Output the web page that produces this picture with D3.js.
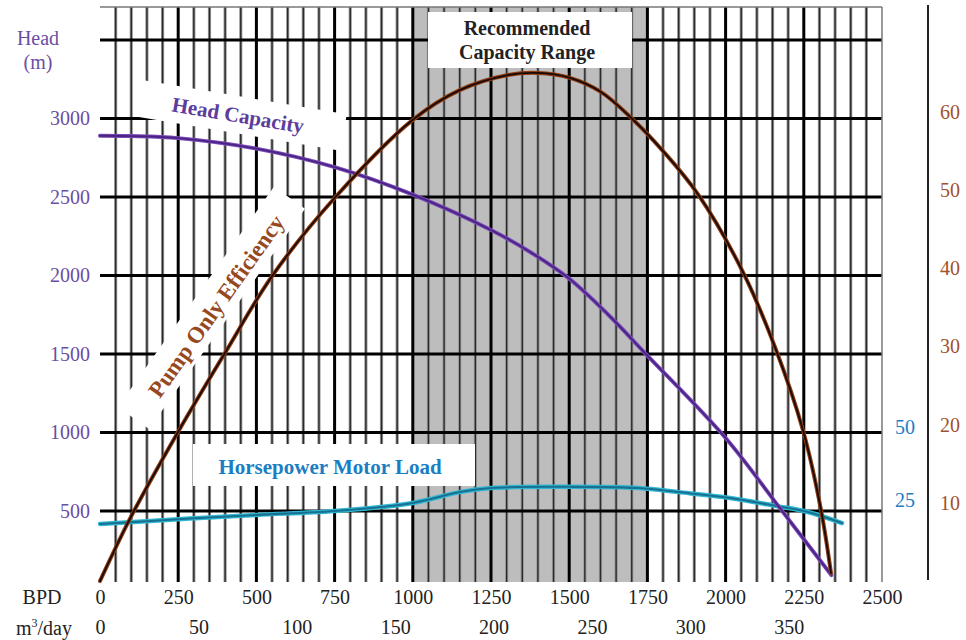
<!DOCTYPE html>
<html>
<head>
<meta charset="utf-8">
<script src="https://cdn.jsdelivr.net/npm/d3@7"></script>
<style>
  body { margin: 0; background: #fff; }
  text { font-family: "Liberation Serif", "Times New Roman", serif; }
</style>
</head>
<body>
<script>
// chart size
const width = 966;
const height = 640;

// data
const bpdTicks = [0, 250, 500, 750, 1000, 1250, 1500, 1750, 2000, 2250, 2500];
const m3Ticks = [0, 50, 100, 150, 200, 250, 300, 350];
const headTicks = [500, 1000, 1500, 2000, 2500, 3000];
const effTicks = [10, 20, 30, 40, 50, 60];
const hpTicks = [25, 50];
const recommended = [1000, 1750];

const headBpd = [0, 100, 250, 500, 750, 1000, 1250, 1375, 1500, 1625, 1750, 2000, 2178, 2338];
const headVal = [2890, 2888, 2875, 2808, 2690, 2515, 2290, 2150, 1980, 1750, 1490, 965, 507, 92];

const effBpd = [0, 100, 250, 400, 550, 750, 1000, 1150, 1300, 1400, 1500, 1600, 1697, 1800, 1913, 2057, 2159, 2248, 2305, 2337];
const effVal = [0, 8.3, 19.1, 29.2, 39.0, 49.0, 59.0, 62.8, 64.7, 65.0, 64.4, 62.6, 59.3, 55.0, 49.4, 39.4, 29.8, 19.2, 9.1, 1.0];

const hpBpd = [0, 250, 500, 750, 1000, 1150, 1250, 1500, 1722, 1850, 2014, 2164, 2263, 2372];
const hpVal = [16.8, 18.4, 19.9, 21.2, 24.0, 27.7, 29.1, 29.5, 29.1, 27.7, 25.7, 22.9, 20.9, 17.1];

const bblPerM3 = 6.29;

let svg = d3.select('body')
    .append('svg')
    .attr('width', width)
    .attr('height', height);

svg.append('rect').attr('width', width).attr('height', height).attr('fill', '#fff');

// scales
let x = d3.scaleLinear().domain([0, 2500]).range([100, 882]);
let xM3 = d3.scaleLinear().domain([0, 2500 / bblPerM3]).range([100, 882]);
let yHead = d3.scaleLinear().domain([0, 3500]).range([589.5, 40]);
let yEff = d3.scaleLinear().domain([0, 60]).range([581, 112]);
let yHp = d3.scaleLinear().domain([0, 50]).range([573, 427]);

const gridTop = 7, gridBottom = 582;

// recommended capacity band
svg.append('rect')
    .attr('x', x(recommended[0]))
    .attr('y', gridTop)
    .attr('width', x(recommended[1]) - x(recommended[0]))
    .attr('height', gridBottom - gridTop)
    .attr('fill', '#bdbdbd');

// grid
let grid = svg.append('g').classed('grid', true);
let minor = d3.range(50, 2500, 50).filter(v => v % 250 !== 0);
let major = d3.range(250, 2500, 250);

grid.selectAll('.vminor').data(minor).enter().append('line')
    .attr('x1', d => x(d)).attr('x2', d => x(d))
    .attr('y1', gridTop).attr('y2', gridBottom)
    .attr('stroke', '#999').attr('stroke-width', 3.2);
grid.selectAll('.vminor2').data(minor).enter().append('line')
    .attr('x1', d => x(d)).attr('x2', d => x(d))
    .attr('y1', gridTop).attr('y2', gridBottom)
    .attr('stroke', '#2a2a2a').attr('stroke-width', 1.4);
grid.selectAll('.vmajor').data(major).enter().append('line')
    .attr('x1', d => x(d)).attr('x2', d => x(d))
    .attr('y1', gridTop).attr('y2', gridBottom)
    .attr('stroke', '#000').attr('stroke-width', 3);
grid.selectAll('.h').data(d3.range(500, 3501, 500)).enter().append('line')
    .attr('x1', x(0)).attr('x2', x(2500))
    .attr('y1', d => yHead(d)).attr('y2', d => yHead(d))
    .attr('stroke', '#000').attr('stroke-width', 3);
// border top / right
grid.append('line').attr('x1', x(0)).attr('x2', x(2500)).attr('y1', gridTop).attr('y2', gridTop)
    .attr('stroke', '#777').attr('stroke-width', 1.5);
grid.append('line').attr('x1', x(2500)).attr('x2', x(2500)).attr('y1', gridTop).attr('y2', gridBottom)
    .attr('stroke', '#777').attr('stroke-width', 1.5);

// white label boxes
let boxes = svg.append('g').attr('fill', '#fff');
boxes.append('rect').attr('x', 428).attr('y', 12).attr('width', 204).attr('height', 56);
boxes.append('rect').attr('x', 193).attr('y', 444).attr('width', 282).attr('height', 42);
boxes.append('rect').attr('x', -103).attr('y', -19).attr('width', 206).attr('height', 37)
    .attr('transform', 'translate(242,116) rotate(9.5)');
boxes.append('rect').attr('x', -138).attr('y', -20).attr('width', 270).attr('height', 38)
    .attr('transform', 'translate(214,306) rotate(-54.7)');

// curves
function drawCurve(xs, ys, yScale, outer, inner, w) {
    let pts = xs.map((v, i) => [x(v), yScale(ys[i])]);
    let line = d3.line().curve(d3.curveCatmullRom.alpha(0.5));
    svg.append('path').attr('d', line(pts)).attr('fill', 'none')
        .attr('stroke', outer).attr('stroke-width', w).attr('stroke-linecap', 'round');
    svg.append('path').attr('d', line(pts)).attr('fill', 'none')
        .attr('stroke', inner).attr('stroke-width', w * 0.45).attr('stroke-linecap', 'round');
}
drawCurve(hpBpd, hpVal, yHp, '#2fb6d2', '#17708f', 4.5);
drawCurve(headBpd, headVal, yHead, '#7c4cb8', '#4a2284', 4);
drawCurve(effBpd, effVal, yEff, '#8e3c14', '#1a0904', 4);

// axes
function styleAxis(g, color) {
    g.select('.domain').remove();
    g.selectAll('text')
        .attr('fill', color)
        .style('font-family', '"Liberation Serif", serif')
        .style('font-size', '20px');
}
const fmt = d3.format('d');

svg.append('g').attr('transform', 'translate(100,0)')
    .call(d3.axisLeft(yHead).tickValues(headTicks).tickFormat(fmt).tickSize(0).tickPadding(10))
    .call(g => styleAxis(g, '#6a4ea3'));

svg.append('g').attr('transform', `translate(0,${gridBottom})`)
    .call(d3.axisBottom(x).tickValues(bpdTicks).tickFormat(fmt).tickSize(0).tickPadding(8))
    .call(g => styleAxis(g, '#222'));

svg.append('g').attr('transform', `translate(0,${gridBottom + 34})`)
    .call(d3.axisBottom(xM3).tickValues(m3Ticks).tickFormat(fmt).tickSize(0).tickPadding(4))
    .call(g => styleAxis(g, '#222'));

svg.append('g').attr('transform', 'translate(928,0)')
    .call(d3.axisRight(yEff).tickValues(effTicks).tickFormat(fmt).tickSize(0).tickPadding(12))
    .call(g => styleAxis(g, '#a0522d'));

svg.append('g').attr('transform', 'translate(882,0)')
    .call(d3.axisRight(yHp).tickValues(hpTicks).tickFormat(fmt).tickSize(0).tickPadding(13))
    .call(g => styleAxis(g, '#1a7ec4'));

// right axis line
svg.append('line').attr('x1', 928).attr('x2', 928).attr('y1', 5).attr('y2', 580)
    .attr('stroke', '#222').attr('stroke-width', 2);

// axis titles
let titles = svg.append('g').style('font-size', '20px');
titles.append('text').attr('x', 38).attr('y', 45).attr('text-anchor', 'middle')
    .attr('fill', '#6a4ea3').text('Head');
titles.append('text').attr('x', 38).attr('y', 69).attr('text-anchor', 'middle')
    .attr('fill', '#6a4ea3').text('(m)');
titles.append('text').attr('x', 42).attr('y', 604).attr('text-anchor', 'middle')
    .attr('fill', '#222').text('BPD');
let m3 = titles.append('text').attr('x', 44).attr('y', 635).attr('text-anchor', 'middle')
    .attr('fill', '#222');
m3.append('tspan').text('m');
m3.append('tspan').attr('dy', -8).style('font-size', '12px').text('3');
m3.append('tspan').attr('dy', 8).text('/day');

// curve labels
let labels = svg.append('g').style('font-weight', 'bold');
labels.append('text').attr('x', 527).attr('y', 35).attr('text-anchor', 'middle')
    .attr('fill', '#222').style('font-size', '20px').text('Recommended');
labels.append('text').attr('x', 527).attr('y', 59).attr('text-anchor', 'middle')
    .attr('fill', '#222').style('font-size', '20px').text('Capacity Range');
labels.append('text').attr('x', 330).attr('y', 474).attr('text-anchor', 'middle')
    .attr('fill', '#1a7ec4').style('font-size', '21px').text('Horsepower Motor Load');
labels.append('text').attr('transform', 'translate(238,115) rotate(9.5)')
    .attr('text-anchor', 'middle').attr('dy', '0.35em')
    .attr('fill', '#5c3c9c').style('font-size', '21px').text('Head Capacity');
labels.append('text').attr('transform', 'translate(216,306) rotate(-54.7)')
    .attr('text-anchor', 'middle').attr('dy', '0.35em')
    .attr('fill', '#96491f').style('font-size', '23px').text('Pump Only Efficiency');
</script>
</body>
</html>
